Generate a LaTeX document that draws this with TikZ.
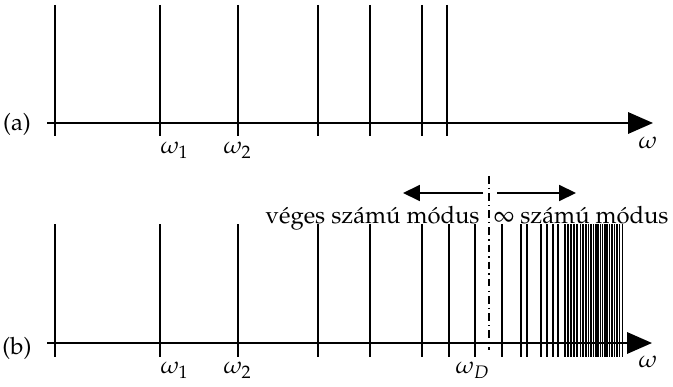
\documentclass[tikz,border=0pt]{standalone}
\usepackage[T1]{fontenc}
\usepackage{mathpazo}
\usetikzlibrary{arrows.meta}
\tikzset{
  mode/.style={line width=0.84pt},
  axis/.style={line width=0.84pt,-{Triangle[length=10.5pt,width=9pt]}},
  region/.style={line width=0.74pt,-{Triangle[length=7.1pt,width=6.7pt]}},
  divider/.style={line width=0.63pt,dash pattern=on 3.2pt off 1.7pt on 0.6pt off 1.7pt},
  lbl/.style={inner sep=0pt}
}
\begin{document}
\begin{tikzpicture}[x=0.42pt,y=-0.42pt]
\useasboundingbox (0,0) rectangle (673,387);

% (a) discrete spectrum
\foreach \x in {55,160,238,318,370,422,447}
  \draw[mode] (\x,5) -- (\x,136);
\coordinate (a0) at (47,123);
\coordinate (a1) at (653,123);
\draw[axis] (a0) -- (a1);
\node[lbl] (la) at (17,124) {(a)};
\node[lbl,anchor=north west] (aw1) at (160,142) {$\omega_1$};
\node[lbl,anchor=north west] (aw2) at (223,142) {$\omega_2$};
\node[lbl] (aw) at (648,143) {$\omega$};

% (b) finitely many modes below omega_D, a dense set above
\foreach \x in {55,160,238,318,370,422,449,475,501.7,521,527,541,547.3,552.7,558.3,565,567.7}
  \draw[mode] (\x,224) -- (\x,357);
\foreach \x in {571,574,577,580.5,583,586,588.5,591,593.5,596,598,600.5,602.5,605,607,609.5,612,614.5,617,619.5,622.5}
  \draw[line width=0.7pt] (\x,224) -- (\x,357);
\coordinate (b0) at (47,343);
\coordinate (b1) at (652,343);
\draw[axis] (b0) -- (b1);
\node[lbl] (lb) at (17,348) {(b)};
\node[lbl,anchor=north west] (bw1) at (160,362) {$\omega_1$};
\node[lbl,anchor=north west] (bw2) at (223,362) {$\omega_2$};
\node[lbl,anchor=north west] (bwD) at (455,362) {$\omega_D$};
\node[lbl] (bw) at (648,362) {$\omega$};

% boundary of the finite part and the region arrows
\coordinate (d0) at (489,176);
\coordinate (d1) at (489,350);
\draw[divider] (d0) -- (d1);
\coordinate (l0) at (483,193);
\coordinate (l1) at (403,193);
\coordinate (r0) at (497,193);
\coordinate (r1) at (576,193);
\draw[region] (l0) -- (l1);
\draw[region] (r0) -- (r1);
\node[lbl,anchor=base east] (fin) at (480,224) {v\'eges sz\'am\'u m\'odus};
\node[lbl,anchor=base west] (inf) at (493,224) {$\infty$ sz\'am\'u m\'odus};
\end{tikzpicture}
\end{document}
